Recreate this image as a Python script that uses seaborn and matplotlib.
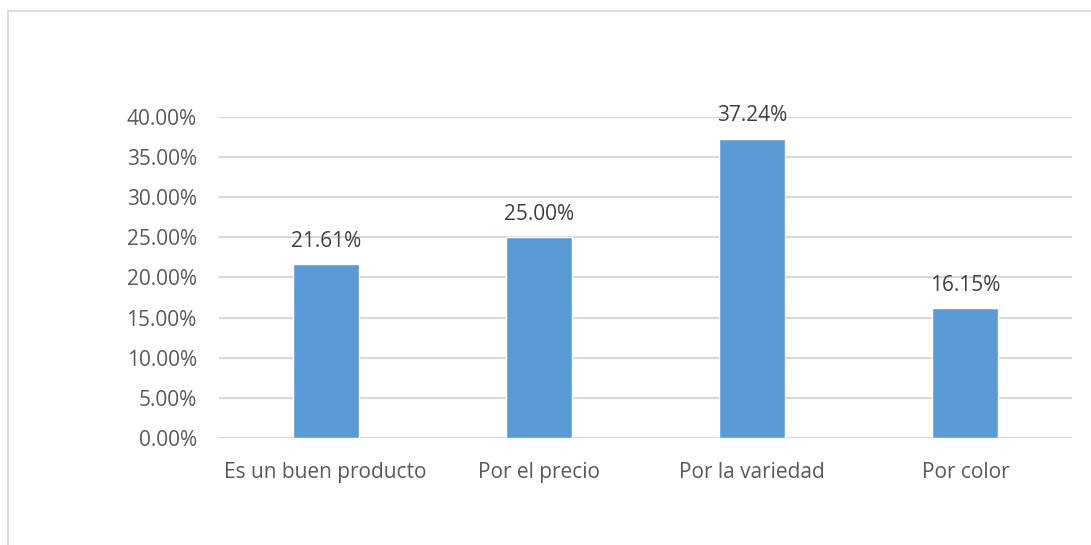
import matplotlib
matplotlib.use("Agg")
import matplotlib.pyplot as plt
import seaborn as sns
import pandas as pd
from matplotlib.patches import Rectangle

# Razones de compra (porcentaje de respuestas)
categorias = ["Es un buen producto", "Por el precio", "Por la variedad", "Por color"]
porcentajes = [21.61, 25.00, 37.24, 16.15]
marcas_y = [0, 5, 10, 15, 20, 25, 30, 35, 40]

BAR_COLOR = "#5B9BD5"
TEXT_COLOR = "#595959"
GRID_COLOR = "#D9D9D9"

sns.set_theme(style="white")
plt.rcParams["font.family"] = ["Open Sans", "DejaVu Sans"]

df = pd.DataFrame({"razon": categorias, "pct": porcentajes})

W, H = 1091, 545
fig = plt.figure(figsize=(W / 100, H / 100), dpi=100)
fig.patch.set_facecolor("white")

# marco del área del gráfico
fig.patches.append(Rectangle((8 / W, -0.1), 1.2, 1 - 11 / H + 0.1,
                             transform=fig.transFigure, fill=False,
                             edgecolor="#D9D9D9", linewidth=1.3))

ax = fig.add_axes([219 / W, 1 - 438 / H, (1072 - 219) / W, (438 - 116.7) / H])

sns.barplot(data=df, x="razon", y="pct", color=BAR_COLOR, width=0.31,
            saturation=1, ax=ax, zorder=3)

ax.set_ylim(0, 40)
ax.set_xlim(-0.5, len(categorias) - 0.5)
ax.set_yticks(marcas_y)
ax.set_yticklabels([f"{v:.2f}%" for v in marcas_y])
ax.yaxis.grid(True, color=GRID_COLOR, linewidth=1.6, zorder=0)
ax.xaxis.grid(False)
ax.set_axisbelow(True)
for s in ax.spines.values():
    s.set_visible(False)
ax.set_xlabel("")
ax.set_ylabel("")
ax.tick_params(axis="y", length=0, pad=16, labelsize=15, labelcolor=TEXT_COLOR)
ax.tick_params(axis="x", length=0, pad=17, labelsize=15, labelcolor=TEXT_COLOR)

for cont in ax.containers:
    ax.bar_label(cont, labels=[f"{v:.2f}%" for v in porcentajes], padding=9,
                 fontsize=15, color="#404040")

fig.savefig("out.png", dpi=100, facecolor="white")
